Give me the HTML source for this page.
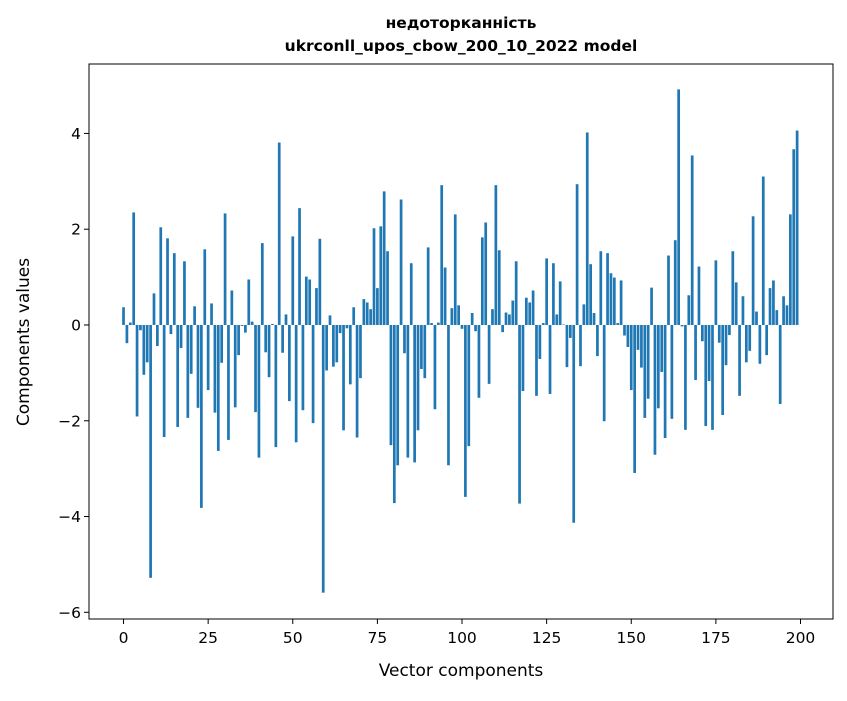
<!DOCTYPE html>
<html><head><meta charset="utf-8"><style>
body{margin:0;background:#fff;}
svg text{font-family:"DejaVu Sans","Liberation Sans",sans-serif;fill:#000;}
</style></head><body>
<svg id="chart" width="847" height="696" xmlns="http://www.w3.org/2000/svg">
<rect width="847" height="696" fill="#fff"/>
<text x="461" y="28" text-anchor="middle" font-size="15.5" font-weight="bold">недоторканність</text>
<text x="461" y="51" text-anchor="middle" font-size="15.5" font-weight="bold">ukrconll_upos_cbow_200_10_2022 model</text>
<g id="bars"></g>
<g id="axes"></g>
<text x="461" y="676" text-anchor="middle" font-size="17">Vector components</text>
<text transform="translate(29,342) rotate(-90)" text-anchor="middle" font-size="17">Components values</text>
</svg>
<script>
const values = [0.37,-0.38,0.05,2.35,-1.91,-0.11,-1.04,-0.78,-5.28,0.66,
-0.44,2.04,-2.34,1.81,-0.19,1.50,-2.13,-0.48,1.33,-1.94,
-1.02,0.39,-1.73,-3.82,1.58,-1.36,0.45,-1.83,-2.63,-0.79,
2.33,-2.40,0.72,-1.72,-0.63,-0.02,-0.16,0.95,0.07,-1.82,
-2.77,1.71,-0.57,-1.09,0.02,-2.55,3.81,-0.58,0.22,-1.59,
1.85,-2.45,2.44,-1.78,1.01,0.95,-2.05,0.77,1.80,-5.59,
-0.95,0.20,-0.87,-0.78,-0.17,-2.20,-0.07,-1.24,0.37,-2.35,
-1.11,0.54,0.47,0.33,2.02,0.77,2.06,2.79,1.54,-2.51,
-3.72,-2.93,2.62,-0.59,-2.77,1.29,-2.87,-2.20,-0.92,-1.11,
1.62,0.04,-1.76,0.05,2.92,1.20,-2.93,0.35,2.31,0.41,
-0.08,-3.59,-2.53,0.25,-0.13,-1.52,1.83,2.14,-1.23,0.33,
2.92,1.56,-0.15,0.26,0.22,0.51,1.33,-3.73,-1.38,0.57,
0.47,0.72,-1.48,-0.71,0.04,1.39,-1.44,1.29,0.22,0.91,
0.01,-0.88,-0.27,-4.13,2.94,-0.86,0.43,4.02,1.27,0.25,
-0.65,1.54,-2.01,1.50,1.08,0.99,0.04,0.93,-0.22,-0.46,
-1.36,-3.09,-0.52,-0.89,-1.94,-1.54,0.78,-2.71,-1.74,-0.98,
-2.36,1.45,-1.96,1.77,4.92,-0.03,-2.19,0.62,3.54,-1.15,
1.22,-0.34,-2.11,-1.17,-2.19,1.35,-0.37,-1.88,-0.84,-0.21,
1.54,0.89,-1.48,0.60,-0.78,-0.54,2.27,0.28,-0.81,3.10,
-0.63,0.77,0.93,0.31,-1.65,0.60,0.41,2.31,3.67,4.06];
const xTicks = [0,25,50,75,100,125,150,175,200];
const yTicks = [-6,-4,-2,0,2,4];
const yTickLabels = ["−6","−4","−2","0","2","4"];

const L=89,R=833,T=64,B=619;
const xMin=-10.2,xMax=209.6,yMin=-6.14,yMax=5.45;
function xs(v){return L+(v-xMin)/(xMax-xMin)*(R-L);}
function ys(v){return B-(v-yMin)/(yMax-yMin)*(B-T);}
const NS="http://www.w3.org/2000/svg";
const bars=document.getElementById('bars');
values.forEach((v,i)=>{
  const r=document.createElementNS(NS,'rect');
  const x0=xs(i-0.4),x1=xs(i+0.4);
  const y0=ys(Math.max(v,0)),y1=ys(Math.min(v,0));
  r.setAttribute('x',x0);r.setAttribute('width',x1-x0);
  r.setAttribute('y',y0);r.setAttribute('height',Math.max(y1-y0,0.3));
  r.setAttribute('fill','#1f77b4');
  
  
  bars.appendChild(r);
});
const axes=document.getElementById('axes');
const frame=document.createElementNS(NS,'rect');
frame.setAttribute('x',L);frame.setAttribute('y',T);frame.setAttribute('width',R-L);frame.setAttribute('height',B-T);
frame.setAttribute('fill','none');frame.setAttribute('stroke','#000');frame.setAttribute('stroke-width','1');


axes.appendChild(frame);
xTicks.forEach(t=>{
  const x=xs(t);
  const l=document.createElementNS(NS,'line');
  l.setAttribute('x1',x);l.setAttribute('x2',x);l.setAttribute('y1',B);l.setAttribute('y2',B+5);l.setAttribute('stroke','#000');
  
  
  axes.appendChild(l);
  const tx=document.createElementNS(NS,'text');
  tx.setAttribute('x',x);tx.setAttribute('y',B+24);tx.setAttribute('text-anchor','middle');tx.setAttribute('font-size','15.5');
  tx.textContent=t;
  
  
  axes.appendChild(tx);
});
yTicks.forEach((t,i)=>{
  const y=ys(t);
  const l=document.createElementNS(NS,'line');
  l.setAttribute('x1',L-5);l.setAttribute('x2',L);l.setAttribute('y1',y);l.setAttribute('y2',y);l.setAttribute('stroke','#000');
  
  
  axes.appendChild(l);
  const tx=document.createElementNS(NS,'text');
  tx.setAttribute('x',L-8);tx.setAttribute('y',y+5.5);tx.setAttribute('text-anchor','end');tx.setAttribute('font-size','15.5');
  tx.textContent=yTickLabels[i];
  
  
  axes.appendChild(tx);
});
</script>
</body></html>
